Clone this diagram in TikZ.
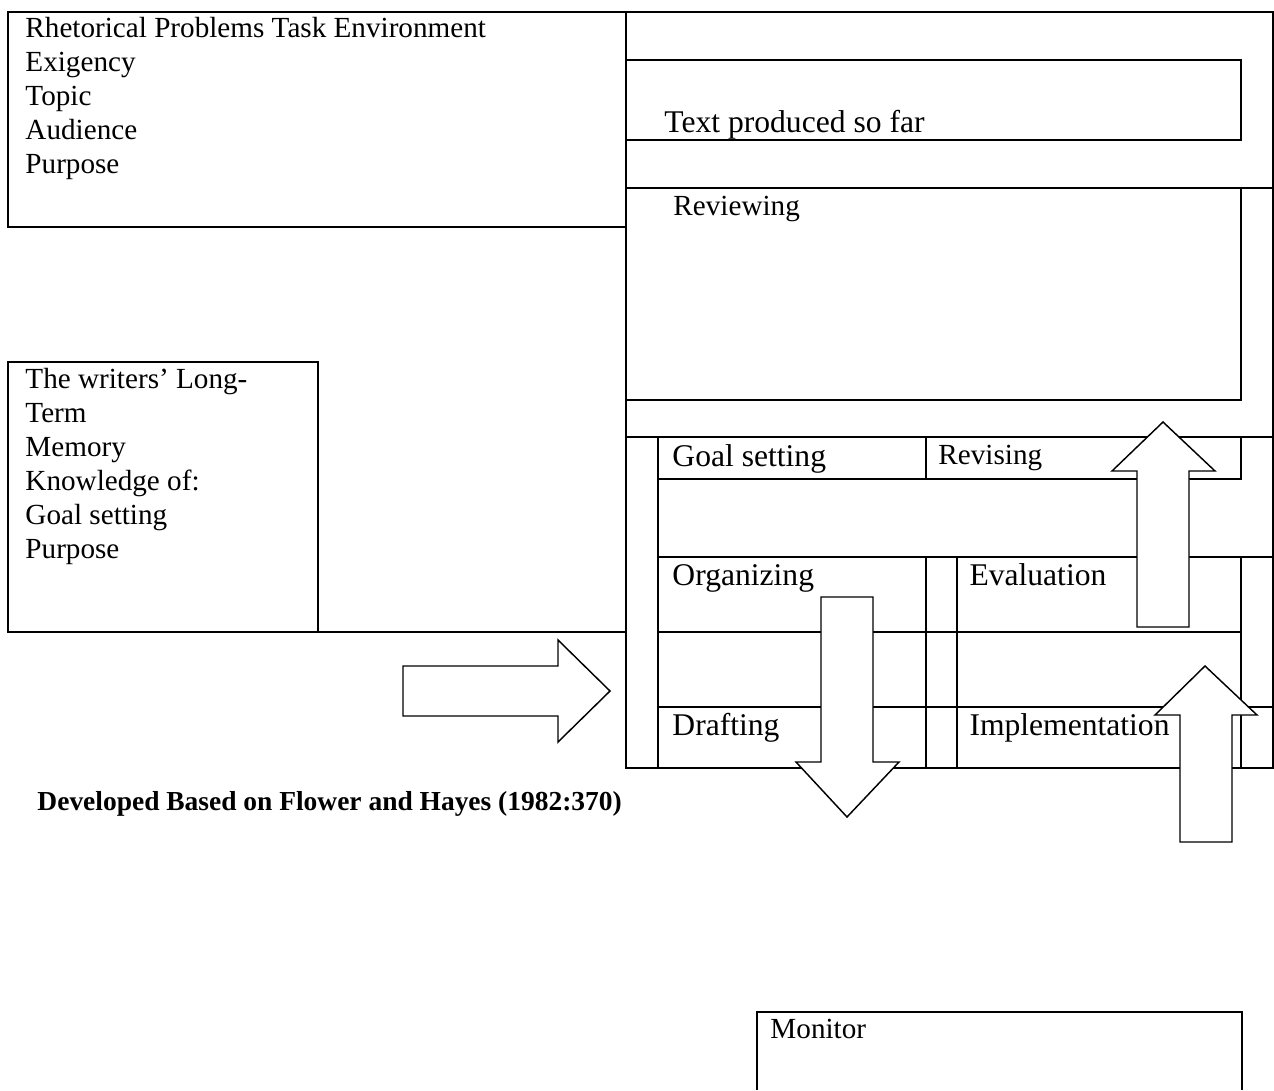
\documentclass[tikz,border=0pt]{standalone}
\usepackage{fontspec}
\setmainfont{Liberation Serif}

\begin{document}
\begin{tikzpicture}[
  x=0.4115pt, y=-0.4115pt,
  frame/.style={line width=0.85pt},
  bigarrow/.style={draw, fill=white, line width=0.6pt, line join=miter},
  lbl/.style={anchor=base west, inner sep=0pt, font=\fontsize{13}{15}\selectfont},
  small/.style={anchor=base west, inner sep=0pt, font=\fontsize{12}{14}\selectfont},
  list/.style={anchor=north west, inner sep=0pt, align=left, font=\fontsize{12}{14}\selectfont}
]
\useasboundingbox (0,0) rectangle (1274,1090);

% Boites de gauche
\draw[frame] (8,12) rectangle (626,227);
\draw[frame] (8,362) rectangle (318,632);
\draw[frame] (318,632) -- (626,632);

% Cadre du processus d'ecriture
\draw[frame] (626,12) rectangle (1273,768);
\draw[frame] (626,60) rectangle (1241,140);
\draw[frame] (626,188) -- (1273,188);
\draw[frame] (626,188) rectangle (1241,400);
\draw[frame] (626,437) -- (1273,437);
\draw[frame] (658,437) -- (658,768);
\draw[frame] (658,479) -- (1241,479) -- (1241,437);
\draw[frame] (926,437) -- (926,479);
\draw[frame] (658,557) -- (1273,557);
\draw[frame] (658,632) -- (1241,632);
\draw[frame] (658,707) -- (1273,707);
\draw[frame] (926,557) -- (926,768);
\draw[frame] (957,557) -- (957,768);
\draw[frame] (1241,557) -- (1241,768);

% Moniteur (ouvert en bas)
\draw[frame] (757,1090) |- (1242,1012) -- (1242,1090);

% Grosses fleches
\draw[bigarrow] (403,666) -- (558,666) -- (558,640) -- (610,691) -- (558,742) -- (558,716) -- (403,716) -- cycle;
\draw[bigarrow] (821,597) -- (873,597) -- (873,762) -- (899,762) -- (847,817) -- (796,762) -- (821,762) -- cycle;
\draw[bigarrow] (1137,627) -- (1137,471) -- (1112,471) -- (1163,422) -- (1215,471) -- (1189,471) -- (1189,627) -- cycle;
\draw[bigarrow] (1180,842) -- (1180,715) -- (1155,715) -- (1205,666) -- (1257,715) -- (1232,715) -- (1232,842) -- cycle;

% Textes
\node[list] (rhet) at (25,17) {Rhetorical Problems Task Environment\\Exigency\\Topic\\Audience\\Purpose};
\node[list] (ltm) at (25,368) {The writers’ Long-\\Term\\Memory\\Knowledge of:\\Goal setting\\Purpose};
\node[lbl] (sofar) at (664,132) {Text produced so far};
\node[small] (review) at (673,215) {Reviewing};
\node[lbl] (goal) at (672,466) {Goal setting};
\node[small] (revise) at (938,464) {Revising};
\node[lbl] (organize) at (672,585) {Organizing};
\node[lbl] (evaluate) at (969,585) {Evaluation};
\node[lbl] (draft) at (672,735) {Drafting};
\node[lbl] (implement) at (969,735) {Implementation};
\node[small] (monitor) at (770,1038) {Monitor};
\node[small, font=\fontsize{11.3}{13}\selectfont\bfseries] (source) at (37,810) {Developed Based on Flower and Hayes (1982:370)};

\end{tikzpicture}
\end{document}
